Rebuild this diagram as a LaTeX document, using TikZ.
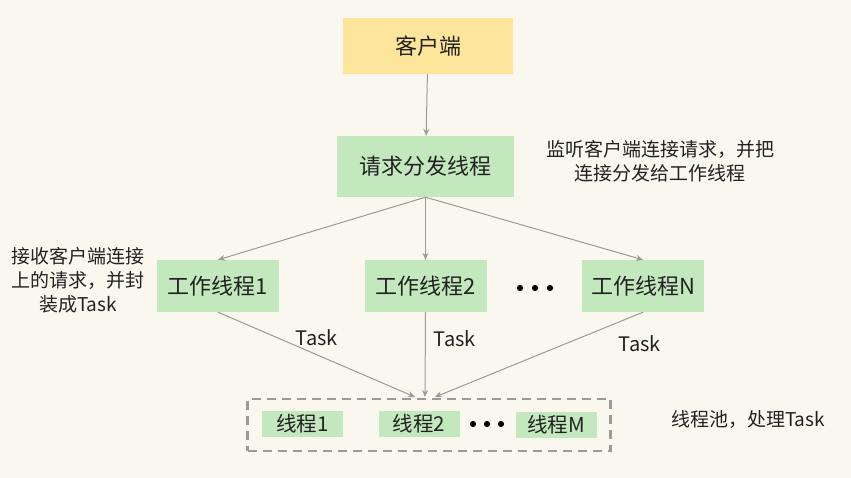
\documentclass[tikz,border=0pt]{standalone}
\usepackage{fontspec}
\setmainfont{Noto Sans CJK SC}
\usetikzlibrary{arrows.meta,positioning}
\definecolor{paper}{HTML}{FAF7EE}
\definecolor{sun}{HTML}{FDE69B}
\definecolor{leaf}{HTML}{C4E8BE}
\definecolor{wire}{HTML}{9A9A9A}
\definecolor{ink}{HTML}{222222}

\begin{document}
\begin{tikzpicture}[x=1pt,y=-1pt,
    box/.style={inner sep=0pt,text=ink,font=\fontsize{22}{22}\selectfont},
    worker/.style={box,fill=leaf,minimum width=122pt,minimum height=52pt},
    slot/.style={box,fill=leaf,minimum width=81pt,minimum height=26pt,font=\fontsize{20.5}{20.5}\selectfont},
    note/.style={inner sep=0pt,text=ink,align=center,font=\fontsize{19}{24}\selectfont},
    arr/.style={-{Stealth[length=7pt,width=6pt]},wire,line width=1pt}]
  \useasboundingbox[fill=paper] (0,0) rectangle (851,478);
  % boxes
  \node[box,fill=sun,minimum width=170pt,minimum height=56pt] (client) at (428,46) {客户端};
  \node[box,fill=leaf,minimum width=177pt,minimum height=61pt] (dispatch) at (425.5,166.5) {请求分发线程};
  \node[worker] (w1) at (218,286) {工作线程1};
  \node[worker] (w2) at (425.5,286) {工作线程2};
  \node[worker] (wn) at (643,286) {工作线程N};
  \foreach \x in {520,535,550} \fill[black] (\x,288) circle (3.1pt);
  % thread pool
  \node[draw=wire,dashed,dash pattern=on 9pt off 6pt,line width=2.4pt,
        minimum width=363pt,minimum height=52pt,inner sep=0pt] (pool) at (429,425) {};
  \node[slot] (t1) at (302.5,424) {线程1};
  \node[slot] (t2) at (419,424) {线程2};
  \node[slot] (tm) at (556,425) {线程M};
  \foreach \x in {473,487,501} \fill[black] (\x,424) circle (3.1pt);
  % notes
  \node[note] (dnote) at (660,161) {监听客户端连接请求，并把\\连接分发给工作线程};
  \node[note] (wnote) at (78,280) {接收客户端连接\\上的请求，并封\\装成Task};
  \node[note] (pnote) at (748,420) {线程池，处理Task};
  \node[note,font=\fontsize{20}{24}\selectfont] (task1) at (317,338) {Task};
  \node[note,font=\fontsize{20}{24}\selectfont] (task2) at (455,339) {Task};
  \node[note,font=\fontsize{20}{24}\selectfont] (taskn) at (640,344) {Task};
  % arrows
  \coordinate (in1) at (415,397);
  \coordinate (in2) at (425,397);
  \coordinate (in3) at (435,397);
  \draw[arr] (client) -- (dispatch);
  \draw[arr] (dispatch.south) -- (w1.north);
  \draw[arr] (dispatch.south) -- (w2.north);
  \draw[arr] (dispatch.south) -- (wn.north);
  \draw[arr] (w1.south) -- (in1);
  \draw[arr] (w2.south) -- (in2);
  \draw[arr] (wn.south) -- (in3);
\end{tikzpicture}
\end{document}
